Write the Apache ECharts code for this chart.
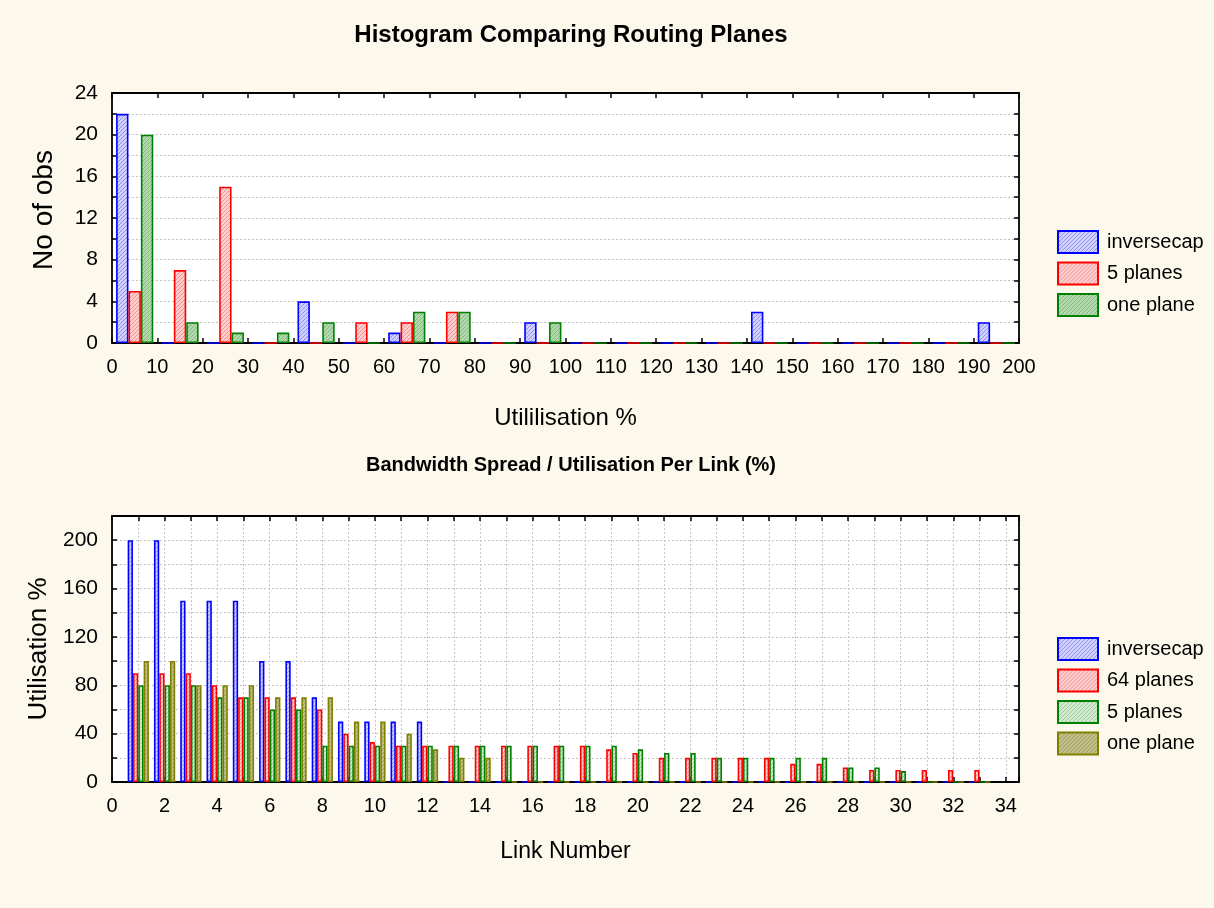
<!DOCTYPE html>
<html>
<head>
<meta charset="utf-8">
<script src="https://cdn.jsdelivr.net/npm/echarts@6/dist/echarts.min.js"></script>
<style>
html,body{margin:0;padding:0;background:#fdf8ec;}
#chart{width:1214px;height:908px;}
</style>
</head>
<body>
<div id="chart"></div>
<script>
// ---------- DATA ----------
// Histogram (top): bin centres of 10%-wide utilisation bins
const histBins = [5,15,25,35,45,55,65,75,85,95,105,115,125,135,145,155,165,175,185,195];
const histInversecap = [22,0,0,0,4,0,1,0,0,2,0,0,0,0,3,0,0,0,0,2];
const hist5Planes    = [5,7,15,0,0,2,2,3,0,0,0,0,0,0,0,0,0,0,0,0];
const histOnePlane   = [20,2,1,1,2,0,3,3,0,2,0,0,0,0,0,0,0,0,0,0];
const histXMin = 0, histXMax = 200, histXStep = 10;
const histYMin = 0, histYMax = 24, histYStep = 2, histYLabelStep = 4;

// Bandwidth per link (bottom)
const linkNumbers = [1,2,3,4,5,6,7,8,9,10,11,12,13,14,15,16,17,18,19,20,21,22,23,24,25,26,27,28,29,30,31,32,33];
const bwInversecap = [200,200,150,150,150,100,100,70,50,50,50,50,0,0,0,0,0,0,0,0,0,0,0,0,0,0,0,0,0,0,0,0,0];
const bw64Planes   = [90,90,90,80,70,70,70,60,40,33,30,30,30,30,30,30,30,30,27,24,20,20,20,20,20,15,15,12,10,10,10,10,10];
const bw5Planes    = [80,80,80,70,70,60,60,30,30,30,30,30,30,30,30,30,30,30,30,27,24,24,20,20,20,20,20,12,12,9,0,0,0];
const bwOnePlane   = [100,100,80,80,80,70,70,70,50,50,40,27,20,20,0,0,0,0,0,0,0,0,0,0,0,0,0,0,0,0,0,0,0];
const bwXMin = 0, bwXMax = 34.5, bwXStep = 1, bwXLabelStep = 2;
const bwYMin = 0, bwYMax = 220, bwYStep = 20, bwYLabelStep = 40;

// ---------- STYLE ----------
const FONT = "'Liberation Sans', Arial, sans-serif";
function hatch(bg, fg) {
  const c = document.createElement('canvas');
  c.width = 4; c.height = 4;
  const g = c.getContext('2d');
  g.fillStyle = bg; g.fillRect(0, 0, 4, 4);
  g.fillStyle = fg;
  for (let i = 0; i < 4; i++) g.fillRect(i, 3 - i, 1, 1);
  return { image: c, repeat: 'repeat' };
}
const S = {
  blue:   { border: '#0000ff', fill: hatch('#d0d0ff', '#9494f0') },
  red:    { border: '#ff0000', fill: hatch('#ffcece', '#f09292') },
  green:  { border: '#008000', fill: hatch('#b2d8ae', '#84ba7e') },
  lgreen: { border: '#008000', fill: hatch('#d2ebd0', '#9acb98') },
  olive:  { border: '#808000', fill: hatch('#c4c08a', '#9e9a5a') }
};

function bar(name, xs, ys, st, axis, gap) {
  return {
    type: 'bar', name: name,
    xAxisIndex: axis, yAxisIndex: axis,
    data: xs.map((x, i) => [x, ys[i]]),
    barGap: '0%', barCategoryGap: gap,
    itemStyle: { color: st.fill, borderColor: st.border, borderWidth: 1.6 },
    emphasis: { disabled: true },
    silent: true
  };
}
function legendItem(name, st) {
  return { name: name, itemStyle: { color: st.fill, borderColor: st.border, borderWidth: 2 } };
}
const gridLine = { show: true, lineStyle: { color: '#c4c4c4', type: [2, 2], width: 1 } };
const axisLine = { show: true, onZero: false, lineStyle: { color: '#000', width: 1.8 } };
const tick = { show: true, inside: true, length: 5, lineStyle: { color: '#000', width: 1.5 } };

function xAxes(gridIndex, min, max, step, labelFn, name, nameGap, nameSize, split) {
  return [
    { type: 'value', gridIndex, position: 'bottom', min, max, interval: step,
      axisLine, axisTick: tick, splitLine: split ? gridLine : { show: false },
      axisLabel: { color: '#000', fontFamily: FONT, fontSize: 20, margin: 14, formatter: labelFn, showMaxLabel: true },
      name, nameLocation: 'middle', nameGap,
      nameTextStyle: { color: '#000', fontFamily: FONT, fontSize: nameSize } },
    { type: 'value', gridIndex, position: 'top', min, max, interval: step,
      axisLine, axisTick: tick, splitLine: { show: false }, axisLabel: { show: false } }
  ];
}
function yAxes(gridIndex, min, max, step, labelFn, name, nameGap, nameSize, namePad) {
  return [
    { type: 'value', gridIndex, position: 'left', min, max, interval: step,
      axisLine, axisTick: tick, splitLine: gridLine,
      axisLabel: { color: '#000', fontFamily: FONT, fontSize: 21, margin: 14, formatter: labelFn },
      name, nameLocation: 'middle', nameGap,
      nameTextStyle: { color: '#000', fontFamily: FONT, fontSize: nameSize, padding: namePad } },
    { type: 'value', gridIndex, position: 'right', min, max, interval: step,
      axisLine, axisTick: tick, splitLine: { show: false }, axisLabel: { show: false } }
  ];
}

const chart = echarts.init(document.getElementById('chart'), null, { renderer: 'canvas' });
const option = {
  animation: false,
  backgroundColor: '#fdf8ec',
  textStyle: { fontFamily: FONT },
  title: [
    { text: 'Histogram Comparing Routing Planes', left: 566, top: 18, textAlign: 'center',
      textStyle: { fontFamily: FONT, fontWeight: 'bold', fontSize: 24, color: '#000' } },
    { text: 'Bandwidth Spread / Utilisation Per Link (%)', left: 566, top: 450, textAlign: 'center',
      textStyle: { fontFamily: FONT, fontWeight: 'bold', fontSize: 20, color: '#000' } }
  ],
  grid: [
    { left: 112, top: 93, width: 907, height: 250, show: true, backgroundColor: '#ffffff', borderWidth: 0 },
    { left: 112, top: 516, width: 907, height: 266, show: true, backgroundColor: '#ffffff', borderWidth: 0 }
  ],
  xAxis: [
    ...xAxes(0, histXMin, histXMax, histXStep, v => String(v), 'Utililisation %', 63, 24, false),
    ...xAxes(1, bwXMin, bwXMax, bwXStep,
      v => (Number.isInteger(v) && v % bwXLabelStep === 0) ? String(v) : '', 'Link Number', 58, 23, true)
  ],
  yAxis: [
    ...yAxes(0, histYMin, histYMax, histYStep, v => (v % histYLabelStep === 0) ? String(v) : '', 'No of obs', 54, 28, [0, 0, 0, 16]),
    ...yAxes(1, bwYMin, bwYMax, bwYStep, v => (v % bwYLabelStep === 0 && v < bwYMax) ? String(v) : '', 'Utilisation %', 54, 26, 0)
  ],
  legend: [
    { orient: 'vertical', left: 1057, top: 230, padding: 0, itemWidth: 40, itemHeight: 22, itemGap: 7.5, icon: 'rect',
      selectedMode: false,
      textStyle: { fontFamily: FONT, fontSize: 20, color: '#000', padding: [0, 0, 0, 4] },
      data: [legendItem('inversecap', S.blue), legendItem('5 planes', S.red), legendItem('one plane', S.green)] },
    { orient: 'vertical', left: 1057, top: 637, padding: 0, itemWidth: 40, itemHeight: 22, itemGap: 7.5, icon: 'rect',
      selectedMode: false,
      textStyle: { fontFamily: FONT, fontSize: 20, color: '#000', padding: [0, 0, 0, 4] },
      data: [legendItem('inversecap', S.blue), legendItem('64 planes', S.red), legendItem('5 planes', S.lgreen), legendItem('one plane', S.olive)] }
  ],
  series: [
    bar('inversecap', histBins, histInversecap, S.blue, 0, '18%'),
    bar('5 planes', histBins, hist5Planes, S.red, 0, '18%'),
    bar('one plane', histBins, histOnePlane, S.green, 0, '18%'),
    bar('inversecap', linkNumbers, bwInversecap, S.blue, 2, '19%'),
    bar('64 planes', linkNumbers, bw64Planes, S.red, 2, '19%'),
    bar('5 planes', linkNumbers, bw5Planes, S.lgreen, 2, '19%'),
    bar('one plane', linkNumbers, bwOnePlane, S.olive, 2, '19%')
  ]
};
chart.setOption(option);
</script>
</body>
</html>
